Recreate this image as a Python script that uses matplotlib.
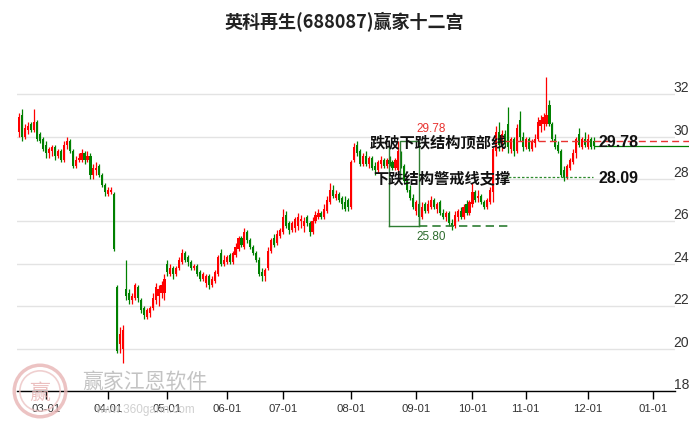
import matplotlib
matplotlib.use("Agg")
import matplotlib.pyplot as plt
import numpy as np
import pandas as pd
from matplotlib.patches import Circle

plt.rcParams['font.family'] = ['Noto Sans CJK SC', 'DejaVu Sans']

# ---------------- data ----------------
title = "英科再生(688087)赢家十二宫"
holidays = ["2024-04-04", "2024-04-05", "2024-05-01", "2024-05-02", "2024-05-03",
            "2024-06-10", "2024-09-16", "2024-09-17", "2024-10-01", "2024-10-02",
            "2024-10-03", "2024-10-04", "2024-10-07", "2025-01-01"]
start_date = "2024-02-19"
end_date = "2025-01-20"
month_labels = ["03-01", "04-01", "05-01", "06-01", "07-01", "08-01",
                "09-01", "10-01", "11-01", "12-01", "01-01"]
month_starts = ["2024-03", "2024-04", "2024-05", "2024-06", "2024-07", "2024-08",
                "2024-09", "2024-10", "2024-11", "2024-12", "2025-01"]

opens = [30.2, 31.0, 30.0, 30.3, 30.6, 30.3, 30.7, 30.1, 29.9,
         29.6, 29.2, 29.3, 29.5, 29.1, 29.3, 28.9, 29.6, 29.8, 29.3, 28.6, 28.9, 28.9, 29.2, 28.9, 29.1,
         28.2, 28.4, 28.6, 28.2, 27.7,
         27.3, 27.4, 27.3, 22.9, 20.2, 20.0, 22.8, 22.6, 22.3, 22.4, 22.9, 22.3, 21.9, 21.5, 21.7, 21.9,
         22.3, 22.5, 22.6,
         22.6, 24.0, 23.5, 23.8, 23.5, 23.8, 24.1, 24.5, 24.3, 24.1, 23.8, 23.9, 23.6, 23.3, 23.1, 23.4,
         23.0, 23.2, 23.5,
         24.5, 24.0, 24.1, 24.4, 24.1, 24.4, 24.7, 25.2, 24.8, 25.5, 25.1, 24.8, 24.5, 24.2, 23.6, 23.4,
         23.8, 24.6, 25.2,
         25.0, 25.3, 25.5, 26.3, 25.9, 25.6, 25.7, 25.8, 26.0, 25.8, 26.2, 25.9, 25.5, 26.0, 26.2, 26.4,
         26.2, 26.5, 26.9, 27.5, 27.1, 27.3, 27.1,
         26.9, 27.0, 26.7, 28.9, 29.6, 29.3, 28.7, 29.1, 28.7, 29.0, 28.6, 28.4, 28.7, 28.9, 28.6, 28.9,
         28.8, 28.5, 28.4, 29.2, 28.6, 27.9,
         27.5, 27.1, 26.5, 26.8, 26.2, 26.8, 26.5, 26.7, 27.0, 26.6, 26.9, 26.4, 26.2, 26.4, 25.9, 25.8,
         26.2, 26.5, 26.2,
         26.8, 26.4, 26.8, 27.4, 27.1, 27.2, 26.9, 26.7, 26.9, 27.4, 29.3, 30.2, 29.5, 30.1, 30.6, 29.4,
         29.9, 29.3,
         30.8, 30.0, 29.5, 29.9, 29.4, 29.7, 29.9, 30.5, 30.6, 30.6, 31.5, 30.6, 29.9, 29.6, 29.3, 28.4,
         28.1, 28.5, 28.8, 29.2, 30.1,
         29.5, 29.9, 29.5, 29.9, 29.8]
highs = [31.1, 31.3, 30.6, 30.7, 30.7, 31.3, 30.8, 30.2, 30.0,
         29.8, 29.5, 29.6, 29.6, 29.4, 29.4, 29.8, 30.0, 29.9, 29.4, 29.1, 29.2, 29.4, 29.3, 29.3, 29.2,
         28.7, 28.8, 28.7, 28.3, 27.8,
         27.6, 27.6, 27.4, 23.0, 21.0, 21.1, 24.2, 22.8, 22.6, 23.1, 23.0, 22.4, 22.0, 21.9, 22.0, 22.6,
         23.1, 23.0, 23.2,
         23.5, 24.2, 24.0, 23.9, 23.9, 24.3, 24.7, 24.6, 24.4, 24.2, 24.0, 24.0, 23.7, 23.6, 23.5, 23.5,
         23.4, 23.7, 24.4,
         24.7, 24.4, 24.4, 24.5, 24.6, 25.0, 25.3, 25.3, 25.7, 25.6, 25.2, 24.9, 24.6, 24.3, 23.8, 23.8,
         24.8, 25.2, 25.4,
         25.6, 25.7, 26.6, 26.5, 26.0, 26.0, 26.2, 26.4, 26.3, 26.2, 26.3, 26.0, 26.2, 26.5, 26.6, 26.5,
         26.8, 27.2, 27.8, 27.7, 27.5, 27.4, 27.2,
         27.2, 27.1, 28.9, 29.7, 29.8, 29.4, 29.2, 29.3, 29.1, 29.1, 28.8, 28.9, 29.1, 29.0, 29.0, 29.1,
         28.9, 29.0, 29.78, 29.3, 28.7, 28.0,
         27.7, 27.3, 27.0, 26.9, 26.9, 26.9, 27.0, 27.2, 27.1, 26.9, 27.0, 26.6, 26.5, 26.5, 26.1, 26.5,
         26.6, 26.7, 26.8,
         27.0, 27.0, 27.8, 27.5, 27.5, 27.3, 27.0, 27.1, 27.6, 29.5, 30.5, 30.7, 30.3, 30.3, 31.4, 30.0,
         30.0, 30.6,
         31.2, 30.2, 30.0, 30.0, 29.9, 30.1, 30.9, 31.0, 31.1, 32.8, 31.7, 30.7, 30.1, 29.8, 29.4, 28.6,
         28.7, 29.0, 29.4, 30.0, 30.4,
         30.0, 30.2, 30.1, 30.0, 30.0]
lows = [30.0, 29.8, 29.9, 30.1, 30.2, 30.2, 29.8, 29.7, 29.3,
        29.0, 29.0, 29.1, 28.9, 29.0, 28.8, 28.8, 29.4, 29.2, 28.5, 28.5, 28.8, 28.8, 28.7, 28.8, 28.0,
        28.0, 28.2, 28.1, 27.6, 27.2,
        27.2, 27.3, 24.6, 19.8, 19.8, 19.3, 22.3, 22.1, 22.1, 22.3, 22.2, 21.7, 21.4, 21.4, 21.5, 21.8,
        22.1, 22.0, 22.4,
        22.3, 23.4, 23.4, 23.3, 23.4, 23.7, 24.0, 24.1, 23.9, 23.7, 23.7, 23.4, 23.2, 23.2, 22.9, 22.8,
        22.9, 23.1, 23.4,
        23.9, 23.9, 24.0, 24.0, 24.0, 24.3, 24.6, 24.8, 24.7, 25.0, 24.7, 24.4, 24.1, 23.4, 23.2, 23.2,
        23.7, 24.5, 24.8,
        24.9, 25.2, 25.4, 25.7, 25.4, 25.5, 25.5, 25.6, 25.7, 25.5, 25.8, 25.3, 25.4, 25.9, 26.1, 26.1,
        26.1, 26.4, 26.8, 27.1, 27.0, 26.9, 26.6,
        26.5, 26.5, 26.6, 28.8, 29.1, 28.6, 28.6, 28.6, 28.5, 28.4, 28.2, 28.3, 28.5, 28.5, 28.5, 28.6,
        28.4, 28.4, 28.3, 28.5, 27.8, 27.4,
        27.0, 26.6, 26.3, 25.8, 26.1, 26.4, 26.4, 26.6, 26.6, 26.4, 26.3, 26.1, 26.0, 25.8, 25.6, 25.7,
        26.0, 26.1, 26.1,
        26.3, 26.3, 26.7, 26.9, 26.9, 26.8, 26.6, 26.6, 26.8, 26.9, 29.1, 29.3, 29.3, 29.5, 29.2, 29.2,
        29.1, 29.2,
        29.8, 29.3, 29.4, 29.3, 29.3, 29.5, 29.8, 30.2, 30.3, 30.5, 30.5, 29.8, 29.4, 29.2, 28.1, 27.9,
        28.0, 28.4, 28.7, 29.0, 29.5,
        29.4, 29.5, 29.4, 29.4, 29.4]
closes = [30.9, 30.0, 30.4, 30.5, 30.3, 30.7, 29.9, 29.8, 29.4,
          29.2, 29.4, 29.5, 29.1, 29.3, 28.9, 29.6, 29.8, 29.3, 28.6, 28.9, 29.0, 29.2, 28.9, 29.1, 28.2,
          28.5, 28.5, 28.2, 27.7, 27.4,
          27.5, 27.5, 24.7, 19.9, 20.7, 20.9, 22.5, 22.3, 22.5, 23.0, 22.4, 21.8, 21.6, 21.8, 21.9, 22.4,
          22.9, 22.8, 23.0,
          23.3, 23.6, 23.8, 23.5, 23.8, 24.2, 24.5, 24.2, 24.1, 23.8, 23.9, 23.5, 23.3, 23.5, 23.4, 23.0,
          23.3, 23.6, 24.3,
          24.0, 24.2, 24.3, 24.1, 24.5, 24.8, 25.2, 24.9, 25.5, 25.1, 24.8, 24.5, 24.2, 23.5, 23.4, 23.7,
          24.6, 25.1, 24.9,
          25.4, 25.6, 26.2, 25.8, 25.6, 25.9, 26.1, 26.2, 26.1, 26.0, 25.9, 25.5, 26.0, 26.3, 26.4, 26.2,
          26.6, 27.0, 27.5, 27.2, 27.3, 27.0, 26.8,
          26.6, 26.7, 28.8, 29.5, 29.2, 28.7, 29.1, 28.7, 29.0, 28.5, 28.4, 28.8, 28.9, 28.6, 28.9, 28.7,
          28.5, 28.9, 29.3, 28.6, 27.9, 27.5,
          27.1, 26.7, 26.9, 26.2, 26.7, 26.5, 26.8, 27.0, 26.7, 26.8, 26.4, 26.2, 26.4, 25.9, 25.8, 26.3,
          26.5, 26.2, 26.7,
          26.4, 26.9, 27.4, 27.0, 27.2, 26.9, 26.7, 27.0, 27.5, 29.4, 30.2, 29.6, 30.1, 29.7, 29.5, 29.9,
          29.3, 30.4,
          30.0, 29.5, 29.9, 29.4, 29.8, 29.9, 30.7, 30.8, 30.9, 31.0, 30.6, 29.9, 29.5, 29.3, 28.2, 28.1,
          28.6, 28.9, 29.2, 29.9, 29.6,
          29.9, 29.6, 29.9, 29.5, 29.55]

yticks = [18, 20, 22, 24, 26, 28, 30, 32]
top_line_value = 29.78
support_value = 28.09
box_high = 29.78
box_low = 25.80
top_text = "跌破下跌结构顶部线"
support_text = "下跌结构警戒线支撑"
watermark = "赢家江恩软件"
watermark_url = "www.360gann.com"

# ---------------- calendar ----------------
days = pd.bdate_range(start_date, end_date)
days = days[~days.isin(pd.to_datetime(holidays))]
n = len(closes)
idx = np.arange(n)
month_pos = [int(np.argmax(days >= pd.Timestamp(m + "-01"))) for m in month_starts]

# ---------------- figure ----------------
W, H = 689, 427
fig = plt.figure(figsize=(W / 100, H / 100), dpi=100)
ax = fig.add_axes([17 / W, (H - 392) / H, 658 / W, 327 / H])

RED = "#ff0000"
GREEN = "#008000"
o = np.array(opens); h = np.array(highs); l = np.array(lows); c = np.array(closes)
up = c >= o
cols = np.where(up, RED, GREEN)
ax.vlines(idx, l, h, colors=cols, linewidth=0.9, zorder=3)
body_bottom = np.minimum(o, c)
body_h = np.maximum(np.abs(c - o), 0.04)
ax.bar(idx, body_h, bottom=body_bottom, width=0.72, color=cols, linewidth=0, zorder=4)

ax.set_xlim(-0.8, month_pos[-1] + 7.4)
ax.set_ylim(18, 33.42)

# grid / axes
ax.set_yticks(yticks)
for yv in yticks:
    ax.axhline(yv, color="#e3e3e3", linewidth=1.0, zorder=0)
ax.yaxis.tick_right()
ax.tick_params(axis="y", length=0, pad=-1, labelsize=10, labelcolor="#333333")
for lab in ax.get_yticklabels():
    lab.set_verticalalignment("bottom")
    lab.set_family(["Liberation Sans Narrow", "Liberation Sans", "DejaVu Sans"])
ax.set_xticks(month_pos)
ax.set_xticklabels(month_labels)
ax.tick_params(axis="x", length=6, width=1, direction="out", pad=3, labelsize=8.2,
               labelcolor="#333333")
for lab in ax.get_xticklabels():
    lab.set_family(["Liberation Sans Narrow", "Liberation Sans", "DejaVu Sans"])
for s in ["top", "left", "right"]:
    ax.spines[s].set_visible(False)
ax.spines["bottom"].set_color("#000000")
ax.spines["bottom"].set_linewidth(1.0)

# structure box
BOX = "#2e7d32"
iA, iB, iC = 124.7, 128.4, 134.8
ax.plot([iA, iA], [box_low, box_high - 0.25], color=BOX, lw=1.0, zorder=5)
ax.plot([iB, iB, iC, iC], [28.0, box_high, box_high, box_low], color=BOX, lw=1.0, zorder=5)
ax.plot([iA, iC], [box_low, box_low], color=BOX, lw=1.0, zorder=5)
ax.plot([iC, 166], [box_low, box_low], color=BOX, lw=1.2, ls=(0, (5, 3)), zorder=5)
ax.text(139.1, box_high + 0.33, f"{box_high:.2f}", color="#e8322f", fontsize=8.5,
        ha="center", va="bottom", family=["Liberation Sans", "DejaVu Sans"], zorder=6)
ax.text(139.1, box_low - 0.2, f"{box_low:.2f}", color="#2e6b2e", fontsize=8.5,
        ha="center", va="top", family=["Liberation Sans", "DejaVu Sans"], zorder=6)

# top line and support line
ax.plot([163.9, month_pos[-1] + 7.4 + 5], [top_line_value] * 2, color="#e8322f", lw=1.0,
        ls=(0, (5, 3)), zorder=5, clip_on=False)
ax.plot([163.5, 193.6], [support_value] * 2, color="#2e8b2e", lw=0.9, ls=(0, (2, 1.5)), zorder=5)
ax.text(118.4, top_line_value, top_text, fontsize=11, fontweight="bold", color="#111111",
        ha="left", va="center", zorder=7)
ax.text(119.4, support_value, support_text, fontsize=11, fontweight="bold", color="#111111",
        ha="left", va="center", zorder=7)
ax.text(195.7, top_line_value, f"{top_line_value:.2f}", fontsize=11.5, fontweight="bold",
        color="#111111", ha="left", va="center", family=["Liberation Sans", "DejaVu Sans"], zorder=7)
ax.text(195.7, support_value, f"{support_value:.2f}", fontsize=11.5, fontweight="bold",
        color="#111111", ha="left", va="center", family=["Liberation Sans", "DejaVu Sans"], zorder=7)
# last price line
ax.plot([n - 1, month_pos[-1] + 7.4 + 5], [closes[-1]] * 2, color=GREEN, lw=0.9, zorder=2,
        clip_on=False)

# title
fig.text(0.5, 1 - 22 / H, title, ha="center", va="center", fontsize=13, fontweight="bold",
         color="#222222")

# watermark
fig.text(82 / W, 1 - 382 / H, watermark, fontsize=15, color="#b9b9b9", alpha=0.85,
         ha="left", va="center")
fig.text(95 / W, 1 - 410 / H, watermark_url, fontsize=8.5, color="#c8c8c8", alpha=0.85,
         ha="left", va="center", family=["Liberation Sans", "DejaVu Sans"])
logo_ax = fig.add_axes([12 / W, (H - 420) / H, 56 / W, 56 / H])
logo_ax.set_xlim(-1, 1); logo_ax.set_ylim(-1, 1); logo_ax.set_aspect("equal"); logo_ax.axis("off")
logo_ax.add_patch(Circle((0, 0), 0.92, fill=False, ec="#e8b4b4", lw=2.5, alpha=0.8))
logo_ax.add_patch(Circle((0, 0), 0.72, fill=False, ec="#ecc4c4", lw=1.2, alpha=0.8))
logo_ax.text(0, -0.05, "赢", fontsize=15, color="#e6b0b0", ha="center", va="center", alpha=0.8)

fig.savefig("out.png", dpi=100)
